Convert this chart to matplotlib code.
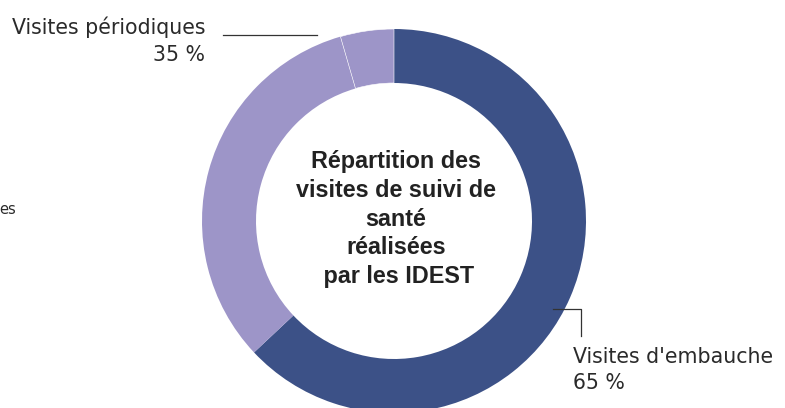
import matplotlib.pyplot as plt

# slice shares (labels in the source are rounded)
categories = ["Visites d'embauche", "Visites périodiques", "Autres visites"]
shares = [63.0, 32.5, 4.5]
colors = ["#3C5187", "#9D95C8", "#9D95C8"]

W, H = 785, 408
fig = plt.figure(figsize=(W / 100, H / 100), dpi=100)
ax = fig.add_axes([0, 0, 1, 1])

# donut, centre and radius in pixel units (y measured from bottom)
cx, cy, r = 394, H - 221, 192
wedges, _ = ax.pie(shares, colors=colors, startangle=90, counterclock=False,
                   center=(cx, cy), radius=r, frame=True,
                   wedgeprops=dict(width=54, linewidth=0))
wedges[2].set_edgecolor("white")
wedges[2].set_linewidth(0.4)
ax.set_xlim(0, W)
ax.set_ylim(0, H)
ax.set_aspect("equal")
ax.axis("off")

# centre title
ax.text(cx + 2, H - 219, "Répartition des\nvisites de suivi de\nsanté\nréalisées\n par les IDEST",
        ha="center", va="center", fontsize=16.8, fontweight="bold",
        family="Liberation Sans", color="#222222", linespacing=1.33)

lab_font = dict(family="DejaVu Sans", fontsize=14.8, color="#2a2a2a")

# label: periodic visits
ax.text(205, H - 27, "Visites périodiques", ha="right", va="center", **lab_font)
ax.text(205, H - 55, "35 %", ha="right", va="center", **lab_font)
ax.plot([223, 317], [H - 35, H - 35], color="#333333", lw=0.9)

# label: hiring visits
ax.text(573, H - 357, "Visites d'embauche", ha="left", va="center", **lab_font)
ax.text(573, H - 383, "65 %", ha="left", va="center", **lab_font)
ax.plot([553, 581, 581], [H - 309, H - 309, H - 336], color="#333333", lw=0.9)

# cut-off label of the small slice at the left edge
ax.text(-1, H - 209, "es", ha="left", va="center", family="DejaVu Sans",
        fontsize=10.5, color="#2a2a2a")

fig.savefig("out.png", dpi=100)
